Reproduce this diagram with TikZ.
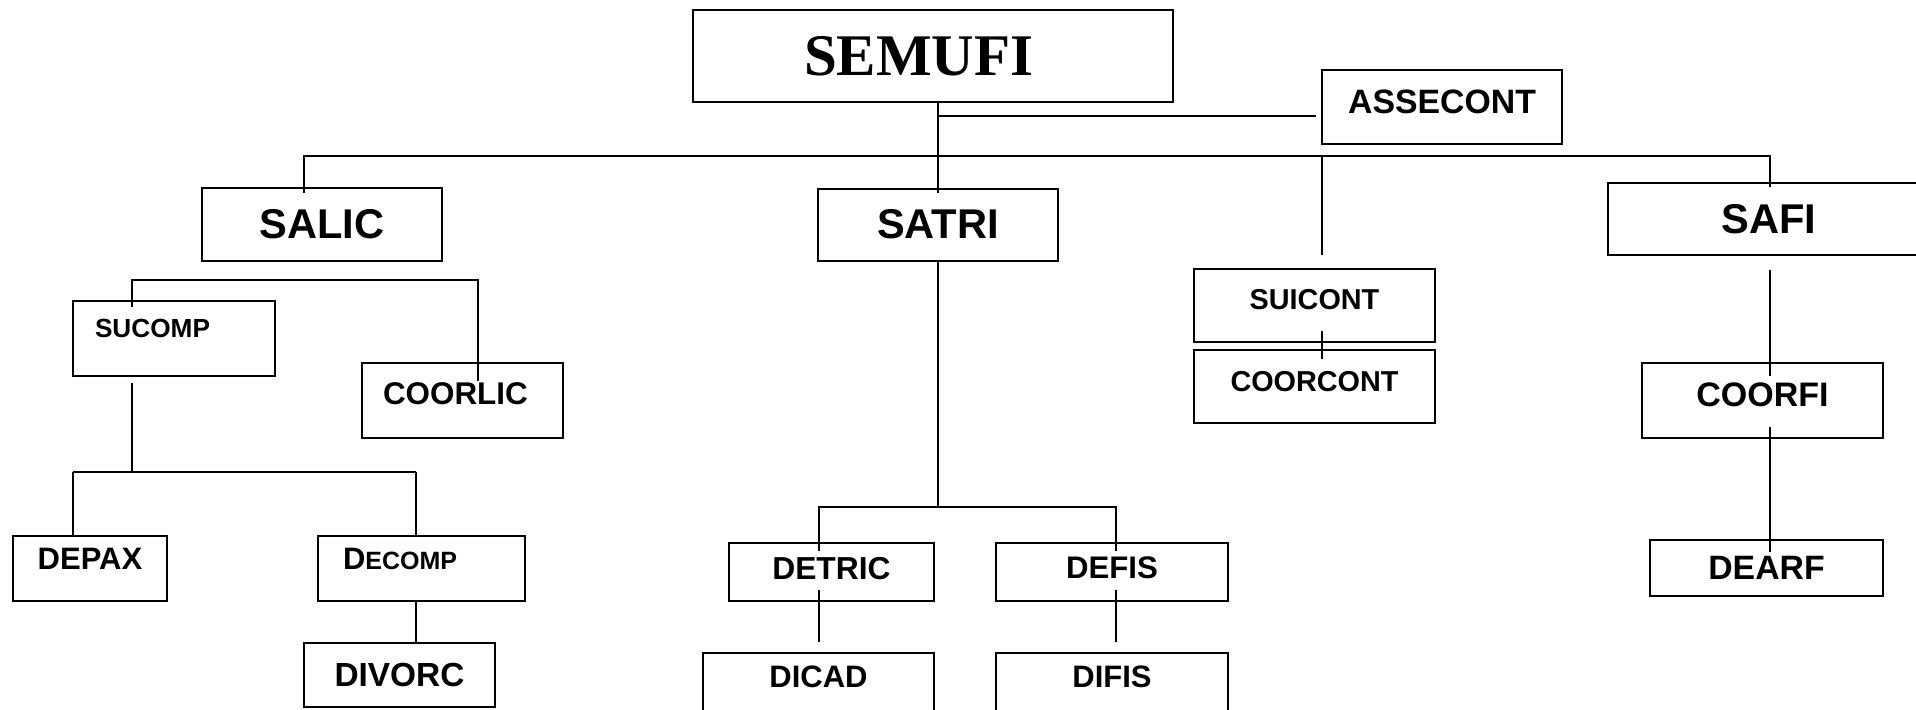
\documentclass[tikz,border=0pt]{standalone}
\usepackage{fontspec}
\setmainfont{Liberation Serif}
\setsansfont{Liberation Sans}
\usetikzlibrary{positioning}

\newcommand{\fsz}[1]{\fontsize{#1}{#1}\selectfont}
\tikzset{
  unit/.style={draw, line width=1pt, inner sep=0pt, align=center,
    font=\sffamily\bfseries\fsz{15.6}},
  link/.style={line width=0.9pt},
}

\begin{document}
\begin{tikzpicture}[x=0.5pt, y=-0.5pt]
    \useasboundingbox (0,0) rectangle (1916,709);
    % Nodes
    \node (semufi) [unit, align=left, text width=129pt, inner xsep=55.5pt, minimum height=46pt, font=\rmfamily\bfseries\fsz{29.5}] at (933,56) {SEMUFI};
    \node (assecont) [unit, minimum width=120pt, minimum height=37pt, text depth=5pt, font=\sffamily\bfseries\fsz{16.9}] at (1442,107) {ASSECONT};

    \node (salic) [unit, minimum width=120pt, minimum height=36.5pt, font=\sffamily\bfseries\fsz{20.8}] at (322,224.5) {SALIC};
    \node (satri) [unit, minimum width=120pt, minimum height=36pt, font=\sffamily\bfseries\fsz{20.8}] at (938,224.5) {SATRI};
    \node (safi) [unit, minimum width=161pt, minimum height=36pt, font=\sffamily\bfseries\fsz{20.8}] at (1769,219) {SAFI};

    \node (suicont) [unit, minimum width=120.5pt, minimum height=36.5pt, text depth=6.5pt, font=\sffamily\bfseries\fsz{14.4}] at (1314.5,305.5) {SUICONT};
    \node (coorcont) [unit, minimum width=120.5pt, minimum height=36.5pt, text depth=5.5pt, font=\sffamily\bfseries\fsz{14.4}] at (1314.5,386.5) {COORCONT};

    \node (sucomp) [unit, align=left, text width=79pt, inner xsep=11pt, minimum height=37.5pt, text depth=10.5pt, font=\sffamily\bfseries\fsz{13.1}] at (174,338.5) {SUCOMP};
    \node (coorlic) [unit, align=left, text width=79.5pt, inner xsep=10.5pt, minimum height=37.5pt, text depth=6.5pt, font=\sffamily\bfseries\fsz{15.7}] at (462.5,400.5) {COORLIC};
    \node (coorfi) [unit, minimum width=120.5pt, minimum height=37.5pt, text depth=5.5pt, font=\sffamily\bfseries\fsz{17}] at (1762.5,400.5) {COORFI};

    \node (depax) [unit, minimum width=77pt, minimum height=32.5pt, text depth=9.5pt, font=\sffamily\bfseries\fsz{15.5}] at (90,568.5) {DEPAX};
    \node (decomp) [unit, align=left, text width=78.5pt, inner xsep=12.5pt, minimum height=32.5pt, text depth=9.5pt] at (421.5,568.5) {\fsz{15.5}D\fsz{12.5}ECOMP};
    \node (divorc) [unit, minimum width=95.5pt, minimum height=32pt, font=\sffamily\bfseries\fsz{16.7}] at (399.5,675) {DIVORC};

    \node (detric) [unit, minimum width=102.5pt, minimum height=29pt, text depth=3.5pt, font=\sffamily\bfseries\fsz{15.9}] at (831.5,572) {DETRIC};
    \node (defis) [unit, minimum width=116pt, minimum height=29pt, text depth=4.5pt] at (1112,572) {DEFIS};
    \node (dicad) [unit, minimum width=115.5pt, minimum height=31pt, text depth=7pt, font=\sffamily\bfseries\fsz{15.5}] at (818.5,684) {DICAD};
    \node (difis) [unit, minimum width=116pt, minimum height=31pt, text depth=7pt, font=\sffamily\bfseries\fsz{15.5}] at (1112,684) {DIFIS};
    \node (dearf) [unit, minimum width=116.5pt, minimum height=28pt, font=\sffamily\bfseries\fsz{16.9}] at (1766.5,568) {DEARF};

    % Bus points
    \coordinate (hub) at (938,116);
    \coordinate (busL) at (304,156);
    \coordinate (busS) at (1322,156);
    \coordinate (busR) at (1770,156);
    \coordinate (subL) at (132,280);
    \coordinate (subR) at (478,280);
    \coordinate (lowL) at (73,472);
    \coordinate (lowR) at (416,472);
    \coordinate (triL) at (819,507);
    \coordinate (triR) at (1116,507);

    % Lines
    \draw[link] (semufi.south -| satri) -- ([yshift=-2.5pt]satri.north);
    \draw[link] (hub) -- ([xshift=-2.5pt]hub -| assecont.west);
    \draw[link] ([yshift=-3pt]busL |- salic.north) -- (busL) -- (busR) -- ([yshift=-2.5pt]busR |- safi.north);
    \draw[link] (busS) -- ([yshift=6.5pt]busS |- suicont.north);
    \draw[link] ([yshift=6pt]busS |- suicont.south) -- ([yshift=-5pt]busS |- coorcont.north);

    \draw[link] ([yshift=-3.5pt]subL |- sucomp.north) -- (subL) -- (subR) -- ([yshift=-9.5pt]subR |- coorlic.north);
    \draw[link] ([yshift=-3pt]subL |- sucomp.south) -- (subL |- lowL);
    \draw[link, line width=1.3pt] (lowL) -- (lowR);
    \draw[link] (lowL) -- ([yshift=-1pt]lowL |- depax.north);
    \draw[link] (lowR) -- (lowR |- decomp.north);
    \draw[link] (lowR |- decomp.south) -- (lowR |- divorc.north);

    \draw[link] (satri.south) -- (satri.south |- triL);
    \draw[link] ([yshift=-4.5pt]triL |- detric.north) -- (triL) -- (triR) -- ([yshift=-4.5pt]triR |- defis.north);
    \draw[link] ([yshift=6pt]triL |- detric.south) -- ([yshift=5pt]triL |- dicad.north);
    \draw[link] ([yshift=6pt]triR |- defis.south) -- ([yshift=5pt]triR |- difis.north);

    \draw[link] ([yshift=-7pt]busR |- safi.south) -- ([yshift=-7pt]busR |- coorfi.north);
    \draw[link] ([yshift=6pt]busR |- coorfi.south) -- ([yshift=-6.5pt]busR |- dearf.north);
\end{tikzpicture}
\end{document}
